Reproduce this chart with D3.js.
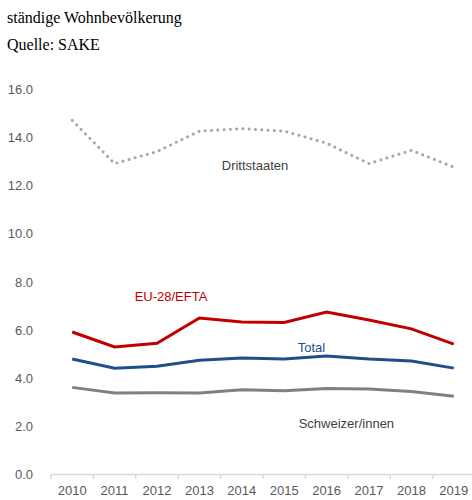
<!DOCTYPE html>
<html>
<head>
<meta charset="utf-8">
<script src="https://cdn.jsdelivr.net/npm/d3@7"></script>
<style>
  body { margin: 0; background: #fff; }
  .note { font-family: "Liberation Serif", "Times New Roman", serif; font-size: 16px; fill: #000; }
  .tick text { font-family: "Liberation Sans", Arial, sans-serif; font-size: 13px; fill: #595959; }
  .lbl { font-family: "Liberation Sans", Arial, sans-serif; font-size: 13px; }
</style>
</head>
<body>
<div class="chart"></div>
<script>
var years = ['2010', '2011', '2012', '2013', '2014', '2015', '2016', '2017', '2018', '2019']
var drittstaaten = [14.7, 12.9, 13.4, 14.25, 14.35, 14.25, 13.75, 12.9, 13.45, 12.75]
var euEfta = [5.9, 5.28, 5.43, 6.48, 6.32, 6.3, 6.73, 6.4, 6.03, 5.4]
var total = [4.78, 4.4, 4.48, 4.73, 4.82, 4.78, 4.9, 4.78, 4.7, 4.4]
var schweizer = [3.6, 3.37, 3.38, 3.37, 3.5, 3.46, 3.55, 3.53, 3.43, 3.23]
var yTicks = [0, 2, 4, 6, 8, 10, 12, 14, 16]

var width = 472, height = 500

var svg = d3.select('.chart')
  .append('svg')
    .attr('width', width)
    .attr('height', height)

// source notes at the top
svg.append('text').attr('class', 'note').attr('x', 7).attr('y', 23).text('ständige Wohnbevölkerung')
svg.append('text').attr('class', 'note').attr('x', 7).attr('y', 50).text('Quelle: SAKE')

var x = d3.scaleBand()
  .domain(years)
  .range([51, 475])

var y = d3.scaleLinear()
  .domain([0, 16])
  .range([474, 89])

// y axis: labels only, no line
var yAxis = svg.append('g')
  .attr('transform', 'translate(36,0)')
  .call(d3.axisLeft(y).tickValues(yTicks).tickFormat(d3.format('.1f')).tickSize(0))
yAxis.select('.domain').remove()
yAxis.selectAll('.tick text').attr('text-anchor', 'end').attr('dy', '0.35em')

// x axis: light line with ticks at the band edges
var xAxis = svg.append('g')
  .attr('transform', 'translate(0,474)')
  .call(d3.axisBottom(x).tickSize(0).tickPadding(12))
xAxis.select('.domain').attr('stroke', '#d9d9d9').attr('stroke-width', 1.5)
xAxis.selectAll('.edge')
  .data(years.concat(['end']))
  .enter()
  .append('line')
    .attr('class', 'edge')
    .attr('x1', (d, i) => x.range()[0] + i * x.bandwidth())
    .attr('x2', (d, i) => x.range()[0] + i * x.bandwidth())
    .attr('y1', 0)
    .attr('y2', 5)
    .attr('stroke', '#d9d9d9')
    .attr('stroke-width', 1.5)

var line = d3.line()
  .x((d, i) => x(years[i]) + x.bandwidth() / 2)
  .y(d => y(d))

var series = [
  { values: drittstaaten, color: '#a6a6a6', width: 3, dash: '0.1 6.2' },
  { values: schweizer, color: '#808080', width: 3, dash: null },
  { values: total, color: '#1f4e8c', width: 3, dash: null },
  { values: euEfta, color: '#c00000', width: 3, dash: null },
]

svg.selectAll('path.series')
  .data(series)
  .enter()
  .append('path')
    .attr('class', 'series')
    .attr('d', d => line(d.values))
    .attr('fill', 'none')
    .attr('stroke', d => d.color)
    .attr('stroke-width', d => d.width)
    .attr('stroke-linecap', d => d.dash ? 'round' : 'butt')
    .attr('stroke-dasharray', d => d.dash)

// series labels
var mid = x.bandwidth() / 2
var labels = [
  { text: 'Drittstaaten', color: '#404040', x: x('2015') - 8, y: y(12.65) },
  { text: 'EU-28/EFTA', color: '#c00000', x: x('2012') + mid + 14, y: y(7.2) },
  { text: 'Total', color: '#1f4e8c', x: x('2016') + 6, y: y(5.05) },
  { text: 'Schweizer/innen', color: '#404040', x: x('2016') + 41, y: y(1.92) },
]

svg.selectAll('text.lbl')
  .data(labels)
  .enter()
  .append('text')
    .attr('class', 'lbl')
    .attr('x', d => d.x)
    .attr('y', d => d.y)
    .attr('text-anchor', 'middle')
    .attr('fill', d => d.color)
    .text(d => d.text)
</script>
</body>
</html>
